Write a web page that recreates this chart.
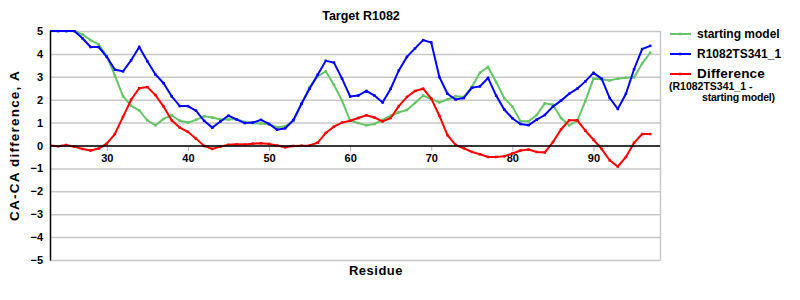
<!DOCTYPE html>
<html>
<head>
<meta charset="utf-8">
<script src="https://cdn.jsdelivr.net/npm/d3@7"></script>
<style>
  body { margin: 0; background: #fff; }
  svg { display: block; }
  text { font-family: 'Liberation Sans', Arial, sans-serif; font-weight: bold; }
</style>
</head>
<body>
<div id="chart"></div>
<script>
// Data

var residues = [23, 24, 25, 26, 27, 28, 29, 30, 31, 32, 33, 34, 35, 36, 37, 38, 39, 40,
  41, 42, 43, 44, 45, 46, 47, 48, 49, 50, 51, 52, 53, 54, 55, 56, 57, 58, 59, 60,
  61, 62, 63, 64, 65, 66, 67, 68, 69, 70, 71, 72, 73, 74, 75, 76, 77, 78, 79, 80,
  81, 82, 83, 84, 85, 86, 87, 88, 89, 90, 91, 92, 93, 94, 95, 96, 97]

var startingModel = [5, 5, 5, 5, 4.85, 4.6, 4.42, 3.9, 3.05, 2.15, 1.74, 1.53, 1.1, 0.88,
  1.16, 1.32, 1.08, 1.0, 1.12, 1.28, 1.22, 1.14, 1.13, 1.15, 1.03, 0.98, 0.96, 0.93,
  0.8, 0.84, 1.08, 1.8, 2.55, 3.02, 3.24, 2.65, 1.96, 1.08, 0.98, 0.88, 0.94, 1.12,
  1.3, 1.45, 1.55, 1.86, 2.18, 2.03, 1.88, 2.01, 2.15, 2.12, 2.55, 3.18, 3.43, 2.77,
  2.07, 1.7, 1.06, 1.06, 1.33, 1.84, 1.78, 1.2, 0.88, 1.08, 1.95, 2.92, 2.89, 2.84,
  2.92, 2.96, 2.97, 3.58, 4.05]

var model341 = [5, 5, 5, 5, 4.68, 4.3, 4.3, 3.87, 3.31, 3.24, 3.72, 4.3, 3.68, 3.1,
  2.72, 2.15, 1.72, 1.72, 1.52, 1.08, 0.78, 1.05, 1.3, 1.14, 0.98, 1.0, 1.12, 0.94,
  0.69, 0.75, 1.11, 1.82, 2.48, 3.09, 3.7, 3.62, 2.92, 2.14, 2.18, 2.38, 2.18, 1.88,
  2.48, 3.28, 3.87, 4.24, 4.6, 4.5, 2.99, 2.26, 2.01, 2.07, 2.52, 2.58, 2.95, 2.18,
  1.57, 1.19, 0.94, 0.89, 1.13, 1.33, 1.7, 1.96, 2.26, 2.48, 2.8, 3.17, 2.92, 2.07,
  1.6, 2.26, 3.33, 4.21, 4.35]

var difference = [0, -0.03, 0.02, -0.05, -0.15, -0.22, -0.13, 0.08, 0.5, 1.25, 2.0,
  2.5, 2.55, 2.2, 1.7, 1.1, 0.78, 0.6, 0.3, -0.02, -0.15, -0.05, 0.03, 0.05, 0.04,
  0.08, 0.1, 0.07, 0, -0.08, -0.02, -0.01, 0, 0.12, 0.55, 0.82, 1.0, 1.08, 1.2, 1.32,
  1.22, 1.05, 1.2, 1.72, 2.12, 2.38, 2.48, 2.05, 1.3, 0.45, 0.03, -0.12, -0.28, -0.38,
  -0.5, -0.5, -0.47, -0.35, -0.22, -0.18, -0.28, -0.3, 0.15, 0.7, 1.1, 1.1, 0.65,
  0.25, -0.15, -0.65, -0.92, -0.5, 0.12, 0.5, 0.5]

var xTicks = [30, 40, 50, 60, 70, 80, 90]
var yTicks = [-5, -4, -3, -2, -1, 0, 1, 2, 3, 4, 5]

var series = [
  { name: 'starting model', color: '#66c566', values: startingModel },
  { name: 'R1082TS341_1', color: '#0000ff', values: model341 },
  { name: 'Difference', color: '#ff0000', values: difference }
]

// Set up margin/height/width

var margin = { top: 31, left: 50, right: 140, bottom: 40 }
var width = 800 - margin.left - margin.right
var height = 300 - margin.top - margin.bottom

var svg = d3
  .select('#chart')
  .append('svg')
  .attr('width', 800)
  .attr('height', 300)

var g = svg
  .append('g')
  .attr('transform', 'translate(' + margin.left + ',' + margin.top + ')')

// Scales

var xPositionScale = d3
  .scaleLinear()
  .domain([23, 98.2])
  .range([0, width])

var yPositionScale = d3
  .scaleLinear()
  .domain([-5, 5])
  .range([height, 0])

// Gridlines and plot border

g.selectAll('.grid')
  .data(yTicks)
  .enter()
  .append('line')
  .attr('class', 'grid')
  .attr('x1', 0)
  .attr('x2', width)
  .attr('y1', d => yPositionScale(d) + 0.5)
  .attr('y2', d => yPositionScale(d) + 0.5)
  .attr('stroke', '#c8c8c8')
  .attr('stroke-width', 1.5)

g.append('line')
  .attr('x1', width + 0.5)
  .attr('x2', width + 0.5)
  .attr('y1', 0)
  .attr('y2', height + 0.5)
  .attr('stroke', '#c8c8c8')
  .attr('stroke-width', 1.5)

// x ticks hang below the zero line

var xAxis = d3
  .axisBottom(xPositionScale)
  .tickValues(xTicks)
  .tickSize(5)
  .tickSizeOuter(0)
  .tickPadding(3)

var xAxisG = g
  .append('g')
  .attr('class', 'axis x-axis')
  .attr('transform', 'translate(0,' + (yPositionScale(0) + 0.5) + ')')
  .call(xAxis)

xAxisG.select('.domain').remove()
xAxisG.selectAll('.tick line').attr('stroke', '#b0b0b0')
xAxisG
  .selectAll('.tick text')
  .attr('font-family', 'DejaVu Sans')
  .attr('font-size', 11)
  .attr('fill', '#000')

var yAxis = d3
  .axisLeft(yPositionScale)
  .tickValues(yTicks)
  .tickSize(0)
  .tickPadding(7)

var yAxisG = g
  .append('g')
  .attr('class', 'axis y-axis')
  .call(yAxis)

yAxisG.select('.domain').remove()
yAxisG
  .selectAll('.tick text')
  .attr('font-family', 'DejaVu Sans')
  .attr('font-size', 11)
  .attr('fill', '#000')

// Clip so values above 5 stay inside the plot

g.append('clipPath')
  .attr('id', 'plot-clip')
  .append('rect')
  .attr('x', 0)
  .attr('y', -1)
  .attr('width', width)
  .attr('height', height + 2)

var line = d3
  .line()
  .x((d, i) => xPositionScale(residues[i]))
  .y(d => yPositionScale(d))

var plot = g.append('g').attr('clip-path', 'url(#plot-clip)')

series.forEach(function(s) {
  plot
    .append('path')
    .datum(s.values)
    .attr('d', line)
    .attr('fill', 'none')
    .attr('stroke', s.color)
    .attr('stroke-width', 2)

  plot
    .selectAll('.marker-' + s.name.replace(/\W/g, ''))
    .data(s.values)
    .enter()
    .append('rect')
    .attr('x', (d, i) => xPositionScale(residues[i]) - 1.25)
    .attr('y', d => yPositionScale(d) - 1.25)
    .attr('width', 2.5)
    .attr('height', 2.5)
    .attr('fill', s.color)
})

// Zero line and left axis line in black

g.append('line')
  .attr('x1', 0)
  .attr('x2', width)
  .attr('y1', yPositionScale(0) + 0.5)
  .attr('y2', yPositionScale(0) + 0.5)
  .attr('stroke', '#000')
  .attr('stroke-width', 1.5)

g.append('line')
  .attr('x1', 0.5)
  .attr('x2', 0.5)
  .attr('y1', 0)
  .attr('y2', height + 0.5)
  .attr('stroke', '#000')
  .attr('stroke-width', 1.5)

// Titles

svg
  .append('text')
  .text('Target R1082')
  .attr('x', 361)
  .attr('y', 20)
  .attr('font-size', 12.5)
  .attr('text-anchor', 'middle')

svg
  .append('text')
  .text('Residue')
  .attr('x', 376)
  .attr('y', 275)
  .attr('font-size', 13)
  .attr('letter-spacing', 0.5)
  .attr('text-anchor', 'middle')

svg
  .append('text')
  .text('CA-CA difference, A')
  .attr('transform', 'translate(19,' + (margin.top + height / 2) + ') rotate(-90)')
  .attr('font-size', 13.5)
  .attr('letter-spacing', 1.2)
  .attr('text-anchor', 'middle')

// Legend

var legend = svg.append('g').attr('transform', 'translate(670,0)')

var legendY = [34, 54, 74]

series.forEach(function(s, i) {
  legend
    .append('line')
    .attr('x1', 0)
    .attr('x2', 21)
    .attr('y1', legendY[i])
    .attr('y2', legendY[i])
    .attr('stroke', s.color)
    .attr('stroke-width', 2)

  legend
    .append('rect')
    .attr('x', 9)
    .attr('y', legendY[i] - 1.25)
    .attr('width', 2.5)
    .attr('height', 2.5)
    .attr('fill', s.color)

  legend
    .append('text')
    .text(s.name)
    .attr('x', 27)
    .attr('y', legendY[i] + 4)
    .attr('font-size', i === 2 ? 13.5 : 12)
    .attr('letter-spacing', i === 2 ? 0.2 : 0)
})

legend
  .append('text')
  .text('(R1082TS341_1 -')
  .attr('x', -1)
  .attr('y', 90)
  .attr('font-size', 10.5)
  .attr('letter-spacing', 0)

legend
  .append('text')
  .text('starting model)')
  .attr('x', 32)
  .attr('y', 101)
  .attr('font-size', 10.5)
  .attr('letter-spacing', -0.2)
</script>
</body>
</html>
